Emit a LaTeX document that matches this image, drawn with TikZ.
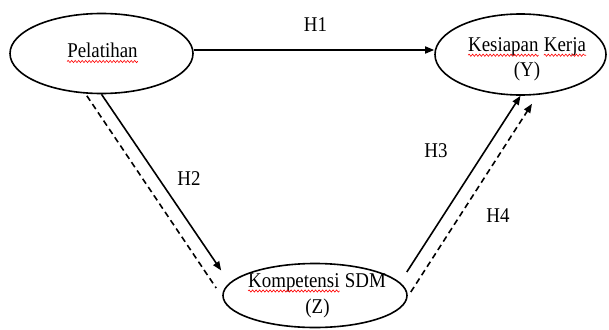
\documentclass[tikz,border=0pt]{standalone}
\usepackage{fontspec}
\setmainfont{Liberation Serif}
\newfontfamily\sqfont{Liberation Serif}[FakeStretch=0.9]
\usetikzlibrary{shapes.geometric,arrows.meta,decorations.pathmorphing}
\begin{document}
\begin{tikzpicture}[x=1pt,y=-1pt,
  oval/.style={ellipse, draw, line width=1.6pt, inner sep=0pt},
  lbl/.style={inner sep=0pt, font=\sqfont\fontsize{21}{25}\selectfont},
  arr/.style={line width=1.6pt, -{Triangle[length=9pt,width=7pt]}},
  darr/.style={arr, dash pattern=on 6pt off 4pt},
  dline/.style={line width=1.6pt, dash pattern=on 6pt off 4pt},
  wavy/.style={red, line width=0.6pt, decorate, decoration={snake, amplitude=1.1pt, segment length=3.5pt}}]
\useasboundingbox (0,0) rectangle (609,329);
% ellipses
\node[oval, minimum width=183pt, minimum height=80pt] (P) at (101.5,53.5) {};
\node[oval, minimum width=171pt, minimum height=81pt] (Y) at (520.5,54.5) {};
\node[oval, minimum width=184pt, minimum height=64pt] (Z) at (315,295.5) {};
% texts
\node[lbl, anchor=base] (tP) at (102.5,57.5) {Pelatihan};
\node[lbl, anchor=base west] (tK1) at (468,51.7) {Kesiapan};
\node[lbl, anchor=base west] (tK2) at ([xshift=5pt]tK1.base east) {Kerja};
\node[lbl, anchor=base] (tY) at (527,76.5) {(Y)};
\node[lbl, anchor=base west] (tZ1) at (248,287) {Kompetensi};
\node[lbl, anchor=base west] (tZ2) at ([xshift=5pt]tZ1.base east) {SDM};
\node[lbl, anchor=base] (tZ) at (317.5,313) {(Z)};
% spelling underlines
\draw[wavy] ([yshift=-4pt]tP.base west) -- ([yshift=-4pt]tP.base east);
\draw[wavy] ([yshift=-3.5pt]tK1.base west) -- ([yshift=-3.5pt]tK1.base east);
\draw[wavy] ([yshift=-3.5pt]tK2.base west) -- ([yshift=-3.5pt]tK2.base east);
\draw[wavy] ([yshift=-4pt]tZ1.base west) -- ([yshift=-4pt]tZ1.base east);
% hypothesis labels
\node[lbl, anchor=base] (h1) at (315.5,31.5) {H1};
\node[lbl, anchor=base] (h2) at (189,185) {H2};
\node[lbl, anchor=base] (h3) at (436,157) {H3};
\node[lbl, anchor=base] (h4) at (498,222) {H4};
% connectors
\draw[arr] ([yshift=3.5pt]P.east) -- ([yshift=4.5pt]Y.west);
\draw[arr] (P.south) -- ([xshift=-1pt,yshift=25pt]Z.west);
\draw[dline] ([yshift=-2pt]P.-110) -- ([xshift=-6pt,yshift=7.5pt]Z.west);
\draw[arr] ([xshift=-1pt,yshift=23.5pt]Z.east) -- (Y.south);
\draw[darr] ([xshift=3pt,yshift=3.5pt]Z.east) -- ([xshift=11.5pt,yshift=-8pt]Y.south);
\end{tikzpicture}
\end{document}
